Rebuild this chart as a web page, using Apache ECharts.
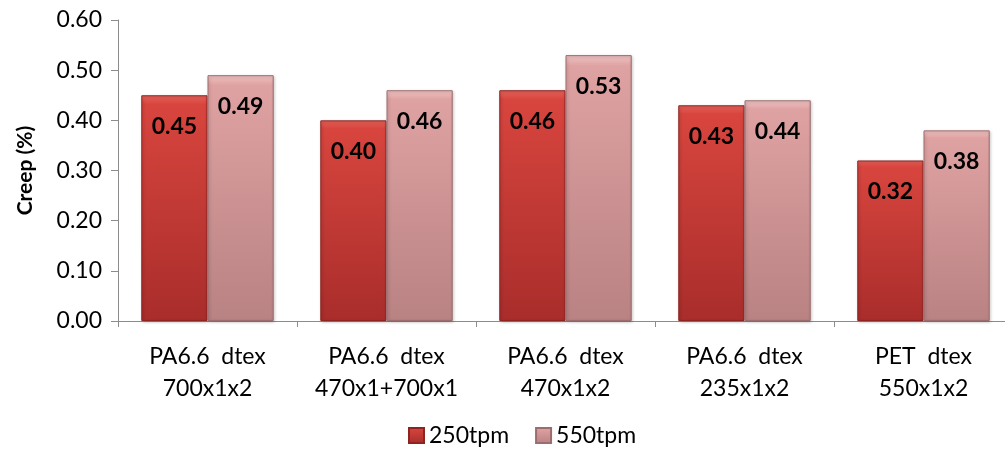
<!DOCTYPE html>
<html>
<head>
<meta charset="utf-8">
<script src="https://cdn.jsdelivr.net/npm/echarts@6/dist/echarts.min.js"></script>
<style>
  html, body { margin: 0; padding: 0; background: #fff; }
  #chart { width: 1005px; height: 452px; }
</style>
</head>
<body>
<div id="chart"></div>
<script>
// Yarn types (two-line labels)
const categories = [
  'PA6.6  dtex\n700x1x2',
  'PA6.6  dtex\n470x1+700x1',
  'PA6.6  dtex\n470x1x2',
  'PA6.6  dtex\n235x1x2',
  'PET  dtex\n550x1x2'
];
const seriesNames = ['250tpm', '550tpm'];
const creep250 = [0.45, 0.40, 0.46, 0.43, 0.32];
const creep550 = [0.49, 0.46, 0.53, 0.44, 0.38];
const yTicks = { min: 0, max: 0.6, interval: 0.1 };

const FONT = 'Lato, "Open Sans", sans-serif';

function barFill(top, mid, bottom) {
  return new echarts.graphic.LinearGradient(0, 0, 0, 1, [
    { offset: 0, color: top },
    { offset: 0.04, color: mid },
    { offset: 1, color: bottom }
  ]);
}

const redFill = barFill('#e8635c', '#d8453e', '#a92d2b');
const pinkFill = barFill('#f0c4c4', '#dfa2a2', '#b98283');

const labelStyle = {
  show: true,
  position: 'insideTop',
  distance: 20,
  color: '#000',
  fontFamily: FONT,
  fontWeight: 'bold',
  fontSize: 23,
  formatter: p => p.value.toFixed(2)
};

const chart = echarts.init(document.getElementById('chart'), null, { renderer: 'canvas' });
chart.setOption({
  backgroundColor: '#fff',
  animation: false,
  // plot area runs slightly past the right edge of the canvas
  grid: { left: 118, top: 20, right: -8, bottom: 131, containLabel: false, outerBoundsMode: 'none' },
  legend: {
    bottom: 0,
    left: 403,
    itemWidth: 15,
    itemHeight: 15,
    itemGap: 26,
    icon: 'rect',
    textStyle: { fontFamily: FONT, fontSize: 23, color: '#000', padding: [0, 0, 0, 0] },
    data: seriesNames
  },
  xAxis: {
    type: 'category',
    data: categories,
    axisLine: { lineStyle: { color: '#8c8c8c', width: 1 } },
    axisTick: { show: true, length: 6, lineStyle: { color: '#8c8c8c' } },
    axisLabel: {
      fontFamily: FONT, fontSize: 23, color: '#000',
      lineHeight: 32, margin: 20, interval: 0
    }
  },
  yAxis: {
    type: 'value',
    min: yTicks.min, max: yTicks.max, interval: yTicks.interval,
    name: 'Creep (%)',
    nameLocation: 'middle',
    nameGap: 82,
    nameRotate: 90,
    nameTextStyle: { fontFamily: FONT, fontSize: 21, fontWeight: 'bold', color: '#000' },
    splitLine: { show: false },
    axisLine: { show: true, lineStyle: { color: '#8c8c8c', width: 1 } },
    axisTick: { show: true, length: 7, lineStyle: { color: '#8c8c8c' } },
    axisLabel: {
      fontFamily: FONT, fontSize: 23, color: '#000', margin: 16,
      formatter: v => v.toFixed(2)
    }
  },
  series: [
    {
      name: seriesNames[0],
      type: 'bar',
      data: creep250,
      barGap: '0%',
      barCategoryGap: '26%',
      itemStyle: { color: redFill, borderColor: '#8e2422', borderWidth: 1,
        shadowColor: 'rgba(0,0,0,0.25)', shadowBlur: 3, shadowOffsetX: 1, shadowOffsetY: 1 },
      label: labelStyle
    },
    {
      name: seriesNames[1],
      type: 'bar',
      data: creep550,
      itemStyle: { color: pinkFill, borderColor: '#9c6d6e', borderWidth: 1,
        shadowColor: 'rgba(0,0,0,0.25)', shadowBlur: 3, shadowOffsetX: 1, shadowOffsetY: 1 },
      label: labelStyle
    }
  ]
});
</script>
</body>
</html>
